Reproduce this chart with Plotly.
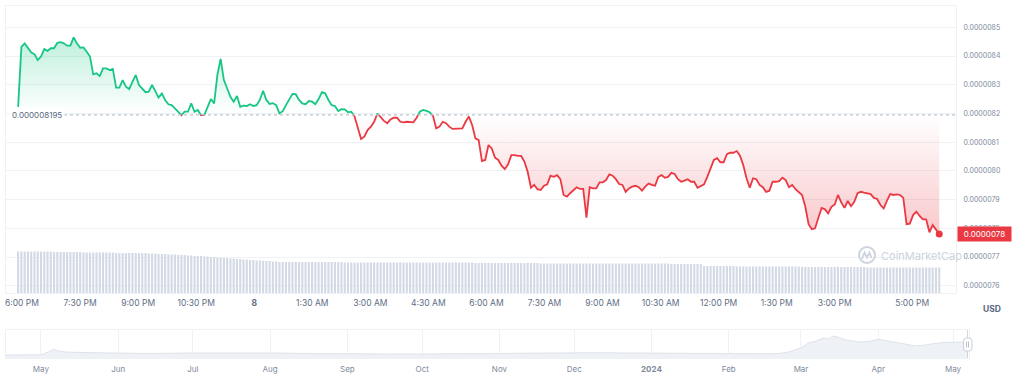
import numpy as np
import pandas as pd
import plotly.graph_objects as go

# ---------------- data ----------------
START = "2024-05-07 17:54"
END = "2024-05-08 17:42"

PRICE_E6 = [
    8.223, 8.432, 8.444, 8.427, 8.413, 8.406, 8.386, 8.398, 8.424, 8.418,
    8.427, 8.427, 8.446, 8.448, 8.444, 8.436, 8.436, 8.465, 8.444, 8.429,
    8.430, 8.415, 8.398, 8.336, 8.340, 8.330, 8.357, 8.357, 8.351, 8.355,
    8.290, 8.290, 8.316, 8.293, 8.285, 8.310, 8.334, 8.299, 8.285, 8.274,
    8.276, 8.299, 8.278, 8.255, 8.270, 8.247, 8.232, 8.229, 8.218, 8.204,
    8.194, 8.206, 8.206, 8.235, 8.206, 8.212, 8.194, 8.194, 8.223, 8.250,
    8.235, 8.334, 8.390, 8.316, 8.287, 8.258,
    8.241, 8.261, 8.223, 8.227, 8.226, 8.232, 8.226, 8.229, 8.247, 8.279,
    8.247, 8.233, 8.236, 8.229, 8.200, 8.208, 8.229, 8.250, 8.268, 8.267,
    8.247, 8.235, 8.232, 8.243, 8.241, 8.232, 8.250, 8.274, 8.270, 8.247,
    8.229, 8.226, 8.208, 8.215, 8.214, 8.204, 8.206, 8.189, 8.148, 8.111,
    8.119, 8.142, 8.154, 8.171, 8.200, 8.185, 8.174, 8.166, 8.179, 8.185,
    8.185, 8.171, 8.169, 8.171, 8.171, 8.169, 8.185, 8.206, 8.212, 8.209,
    8.204, 8.192, 8.148, 8.154, 8.171, 8.166, 8.154, 8.146, 8.146, 8.148,
    8.148, 8.171, 8.189, 8.160, 8.113, 8.107, 8.034, 8.038, 8.090, 8.078,
    8.046, 8.038, 8.018, 8.006, 8.023, 8.055, 8.055, 8.052, 8.052, 8.032,
    7.997, 7.941, 7.951, 7.936, 7.933, 7.948, 7.953, 7.983, 7.979, 7.985,
    7.971, 7.916, 7.910, 7.922, 7.933, 7.943, 7.937, 7.937, 7.837, 7.943,
    7.939, 7.939, 7.960, 7.960, 7.968, 7.988, 7.983, 7.971, 7.954, 7.951,
    7.927, 7.939, 7.945, 7.948, 7.943, 7.931, 7.945, 7.956, 7.951, 7.948,
    7.979, 7.985, 7.976, 7.979, 7.993, 7.989, 7.971, 7.962, 7.966, 7.971,
    7.962, 7.962, 7.941, 7.947, 7.953, 7.979, 8.006, 8.038, 8.044, 8.030,
    8.030, 8.058, 8.063, 8.063, 8.069, 8.053, 8.020, 7.974, 7.941, 7.974,
    7.971, 7.951, 7.943, 7.927, 7.931, 7.962, 7.962, 7.964, 7.976, 7.968,
    7.943, 7.951, 7.936, 7.927, 7.916, 7.875, 7.814, 7.797, 7.800, 7.837,
    7.871, 7.866, 7.852, 7.875, 7.883, 7.916, 7.890, 7.871, 7.895, 7.877,
    7.892, 7.922, 7.927, 7.924, 7.922, 7.919, 7.906, 7.902, 7.881, 7.869,
    7.896, 7.919, 7.916, 7.918, 7.916, 7.906, 7.814, 7.816, 7.846, 7.858,
    7.843, 7.831, 7.831, 7.786, 7.811, 7.797, 7.780,
]

VOLUME = [
    41.5, 41.5, 41.5, 41.5, 41.5, 41.5, 41.5, 41.5, 41.5, 41.5, 41.5, 41, 41, 41, 41, 41, 41, 41, 41, 41,
    40.5, 40.5, 40.5, 40.5, 40.5, 40.5, 40.5, 40.5, 40.5, 40.5, 40, 40, 40, 40, 40, 40, 40, 40, 40, 40,
    39.5, 39.5, 39.5, 39, 39, 39, 38.5, 38.5, 38.5, 38, 38, 38, 37.5, 37.5, 37, 37, 37, 36.5, 36.5, 36,
    36, 35.5, 35.5, 35, 35, 34.5, 34.5, 34, 34, 33.5, 33.5, 33, 33, 32.5, 32.5, 32, 32, 32, 31.5, 31.5,
    31, 31, 31, 31, 31, 31, 31, 31, 31, 31, 31, 31, 31, 31, 31, 31, 31, 31, 31, 31,
    30.5, 30.5, 30.5, 30.5, 30.5, 30.5, 30.5, 30.5, 30.5, 30.5, 30.5, 30.5, 30.5, 30.5, 30.5, 30.5, 30.5, 30.5, 30.5, 30.5,
    30.5, 30.5, 30.5, 30.5, 30.5, 30.5, 30.5, 30.5, 30.5, 30.5, 30.5, 30.5, 30.5, 30.5, 30.5, 30.5, 30.5, 30.5, 30.5, 30.5,
    30, 30, 30, 30, 30, 30, 30, 30, 30, 30, 30, 30, 30, 30, 30, 30, 30, 30, 30, 30,
    29.5, 29.5, 29.5, 29.5, 29.5, 29.5, 29.5, 29.5, 29.5, 29.5, 29.5, 29.5, 29.5, 29.5, 29.5, 29.5, 29.5, 29.5, 29.5, 29.5,
    29.5, 29.5, 29.5, 29.5, 29.5, 29.5, 29.5, 29.5, 29.5, 29.5, 29.5, 29.5, 29.5, 29.5, 29.5, 29.5, 29.5, 29.5, 29.5, 29.5,
    29, 29, 29, 29, 29, 29, 29, 29, 29, 29, 27, 27, 27, 27, 27, 27, 27, 27, 27, 27,
    26.5, 26.5, 26.5, 26.5, 26.5, 26.5, 26.5, 26.5, 26.5, 26.5, 26.5, 26.5, 26.5, 26.5, 26.5, 26.5, 26.5, 26.5, 26.5, 26.5,
    26, 26, 26, 26, 26, 26, 26, 26, 26, 26, 26, 26, 26, 26, 26, 26, 26, 26, 26, 26,
    25.5, 25.5, 25.5, 25.5, 25.5, 25.5, 25.5, 25.5, 25.5, 25.5, 25.5, 25.5, 25.5, 25.5, 25.5, 25.5, 25.5, 25.5, 25.5, 25.5,
    25.5, 25.5, 25.5,
]

BASE_E6 = 8.195

X_TICK_TIMES = [
    "2024-05-07 18:00", "2024-05-07 19:30", "2024-05-07 21:00", "2024-05-07 22:30",
    "2024-05-08 00:00", "2024-05-08 01:30", "2024-05-08 03:00", "2024-05-08 04:30",
    "2024-05-08 06:00", "2024-05-08 07:30", "2024-05-08 09:00", "2024-05-08 10:30",
    "2024-05-08 12:00", "2024-05-08 13:30", "2024-05-08 15:00", "2024-05-08 17:00",
]
X_TICK_TEXT = [
    "6:00 PM", "7:30 PM", "9:00 PM", "10:30 PM", "<b>8</b>", "1:30 AM", "3:00 AM", "4:30 AM",
    "6:00 AM", "7:30 AM", "9:00 AM", "10:30 AM", "12:00 PM", "1:30 PM", "3:00 PM", "5:00 PM",
]
Y_TICKS_E6 = [7.6, 7.7, 7.8, 7.9, 8.0, 8.1, 8.2, 8.3, 8.4, 8.5]

NAV_DATES = [
    "2023-04-17", "2023-04-27", "2023-05-01", "2023-05-04", "2023-05-06", "2023-05-08",
    "2023-05-11", "2023-05-17", "2023-05-25", "2023-06-01", "2023-06-13", "2023-07-01",
    "2023-07-16", "2023-08-01", "2023-08-17", "2023-09-01", "2023-09-16", "2023-10-01",
    "2023-10-16", "2023-10-24", "2023-11-01", "2023-11-17", "2023-12-01", "2023-12-11",
    "2023-12-23", "2024-01-01", "2024-01-16", "2024-02-01", "2024-02-13", "2024-02-21",
    "2024-02-25", "2024-03-01", "2024-03-04", "2024-03-07", "2024-03-10", "2024-03-12",
    "2024-03-14", "2024-03-17", "2024-03-19", "2024-03-22", "2024-03-25", "2024-03-29",
    "2024-04-01", "2024-04-05", "2024-04-09", "2024-04-13", "2024-04-16", "2024-04-20",
    "2024-04-24", "2024-04-28", "2024-05-01", "2024-05-04", "2024-05-07",
]
NAV_E6 = [
    1.47, 1.47, 1.6, 2.9, 4.3, 3.4,
    2.9, 2.7, 2.45, 2.3, 2.2, 2.45,
    2.6, 2.45, 2.2, 1.96, 1.96, 1.96,
    2.06, 2.45, 2.3, 2.35, 2.45, 2.6,
    2.45, 2.35, 2.2, 2.2, 2.1, 2.2,
    2.9, 4.9, 7.35, 8.3, 9.8, 9.3,
    10.8, 9.8, 8.8, 8.3, 7.8, 8.3,
    9.2, 8.3, 7.35, 6.6, 5.9, 6.4,
    7.2, 7.6, 7.8, 7.8, 7.8,
]
NAV_TICK_DATES = [
    "2023-05-01", "2023-06-01", "2023-07-01", "2023-08-01", "2023-09-01", "2023-10-01",
    "2023-11-01", "2023-12-01", "2024-01-01", "2024-02-01", "2024-03-01", "2024-04-01",
    "2024-05-01",
]
NAV_TICK_TEXT = ["May", "Jun", "Jul", "Aug", "Sep", "Oct", "Nov", "Dec", "<b>2024</b>",
                 "Feb", "Mar", "Apr", "May"]

# ---------------- derived ----------------
times = pd.date_range(START, END, periods=len(PRICE_E6))
price = np.array(PRICE_E6) * 1e-6
base = BASE_E6 * 1e-6
nav = np.array(NAV_E6) * 1e-6
y_ticks = [v * 1e-6 for v in Y_TICKS_E6]

GREEN = "#16c784"
RED = "#ea3943"
GRID = "#eff2f5"
TXT = "#616e85"
FONT = "Inter"

W, H = 1024, 382
ML, MR, MT, MB = 6, 50, 6, 8
PW, PH = W - ML - MR, H - MT - MB


def fx(p):
    return (p - ML) / PW


def fy(p):
    return (H - MB - p) / PH


LO, HI = 7.5746e-6, 8.5742e-6
main_bot = fy(293)
split = main_bot + (base - LO) / (HI - LO) * (1 - main_bot)

fig = go.Figure()

# volume bars
fig.add_trace(go.Bar(x=times, y=VOLUME, xaxis="x", yaxis="y4",
                     marker=dict(color="#d3d9e5", line=dict(width=0)),
                     hoverinfo="skip", showlegend=False))

# green part (above baseline)
fig.add_trace(go.Scatter(
    x=times, y=price, xaxis="x", yaxis="y2", mode="lines",
    line=dict(color=GREEN, width=1.8), fill="tozeroy",
    fillgradient=dict(type="vertical", start=base, stop=float(price.max()),
                      colorscale=[[0, "rgba(22,199,132,0)"], [1, "rgba(22,199,132,0.28)"]]),
    showlegend=False))

# red part (below baseline)
fig.add_trace(go.Scatter(
    x=[times[0], times[-1]], y=[base, base], xaxis="x", yaxis="y3", mode="lines",
    line=dict(width=0, color="rgba(0,0,0,0)"), hoverinfo="skip", showlegend=False))
fig.add_trace(go.Scatter(
    x=times, y=price, xaxis="x", yaxis="y3", mode="lines",
    line=dict(color=RED, width=1.8), fill="tonexty",
    fillgradient=dict(type="vertical", start=float(price.min()), stop=base,
                      colorscale=[[0, "rgba(234,57,67,0.28)"], [1, "rgba(234,57,67,0)"]]),
    showlegend=False))

# last point marker
fig.add_trace(go.Scatter(
    x=[times[-1]], y=[price[-1]], xaxis="x", yaxis="y", mode="markers",
    marker=dict(color=RED, size=7), cliponaxis=False, showlegend=False))

# navigator
fig.add_trace(go.Scatter(
    x=NAV_DATES, y=nav, xaxis="x2", yaxis="y5", mode="lines",
    line=dict(color="#dfe3ea", width=1), fill="tozeroy", fillcolor="#eef1f5",
    showlegend=False))

axis_font = dict(family=FONT, size=8.5, color=TXT)

fig.update_layout(
    width=W, height=H,
    margin=dict(l=ML, r=MR, t=MT, b=MB),
    paper_bgcolor="white", plot_bgcolor="rgba(0,0,0,0)",
    font=dict(family=FONT),
    bargap=0.35,
    showlegend=False,
    xaxis=dict(domain=[0, fx(956)], anchor="y", type="date",
               range=["2024-05-07 17:35:12", "2024-05-08 18:08:00"],
               tickmode="array", tickvals=X_TICK_TIMES, ticktext=X_TICK_TEXT,
               tickfont=axis_font, showgrid=False, zeroline=False, ticklabelstandoff=2,
               showline=True, mirror=True, linecolor=GRID, linewidth=1, ticks=""),
    yaxis=dict(domain=[main_bot, 1], anchor="x", side="right", range=[LO, HI],
               tickmode="array", tickvals=y_ticks, tickformat=".7f",
               tickfont=dict(family=FONT, size=7, color="#808a9d"), ticklabelstandoff=5,
               showgrid=True, gridcolor=GRID, gridwidth=1, zeroline=False,
               showline=True, mirror=True, linecolor=GRID, ticks=""),
    yaxis2=dict(domain=[split, 1], anchor="x", range=[base, HI], visible=False),
    yaxis3=dict(domain=[main_bot, split], anchor="x", range=[LO, base], visible=False),
    yaxis4=dict(domain=[main_bot, fy(249)], anchor="x", range=[0, 44], visible=False),
    xaxis2=dict(domain=[0, fx(969)], anchor="y5", type="date",
                range=["2023-04-17", "2024-05-07 10:00"],
                tickmode="array", tickvals=NAV_TICK_DATES, ticktext=NAV_TICK_TEXT,
                tickfont=dict(family=FONT, size=8, color="#808a9d"), ticklabelstandoff=3,
                showgrid=True, gridcolor=GRID, zeroline=False,
                showline=True, mirror=True, linecolor=GRID, ticks=""),
    yaxis5=dict(domain=[fy(358), fy(330)], anchor="x2", range=[0, 13.72e-6],
                showticklabels=False, showgrid=False, zeroline=False,
                showline=True, mirror=True, linecolor=GRID, ticks=""),
)

shapes = []
# dotted baseline
shapes.append(dict(type="line", xref="paper", yref="y", x0=fx(64), x1=fx(955),
                   y0=base, y1=base, line=dict(color="#bcc3ce", width=1.2, dash="dot"),
                   layer="above"))
# navigator right handle
shapes.append(dict(type="line", xref="paper", yref="paper", x0=fx(967.5), x1=fx(967.5),
                   y0=fy(358), y1=fy(330), line=dict(color="#cfd5de", width=1)))
x0, x1, y0, y1, r = 963.5, 972, 338, 351, 3
path = (f"M {fx(x0 + r)},{fy(y0)} L {fx(x1 - r)},{fy(y0)} Q {fx(x1)},{fy(y0)} {fx(x1)},{fy(y0 + r)} "
        f"L {fx(x1)},{fy(y1 - r)} Q {fx(x1)},{fy(y1)} {fx(x1 - r)},{fy(y1)} "
        f"L {fx(x0 + r)},{fy(y1)} Q {fx(x0)},{fy(y1)} {fx(x0)},{fy(y1 - r)} "
        f"L {fx(x0)},{fy(y0 + r)} Q {fx(x0)},{fy(y0)} {fx(x0 + r)},{fy(y0)} Z")
shapes.append(dict(type="path", xref="paper", yref="paper", path=path,
                   fillcolor="white", line=dict(color="#c9cfd9", width=1)))
for hx in (966.5, 968.5):
    shapes.append(dict(type="line", xref="paper", yref="paper", x0=fx(hx), x1=fx(hx),
                       y0=fy(341.5), y1=fy(347.5), line=dict(color="#a6b0c3", width=0.8)))
# watermark logo
shapes.append(dict(type="circle", xref="paper", yref="paper",
                   x0=fx(859), x1=fx(875), y0=fy(263), y1=fy(247),
                   line=dict(color="#cdd3dd", width=2)))
logo = (f"M {fx(862)},{fy(259)} L {fx(864.5)},{fy(252.5)} L {fx(867)},{fy(257.5)} "
        f"L {fx(869.5)},{fy(252.5)} L {fx(871.5)},{fy(258)}")
shapes.append(dict(type="path", xref="paper", yref="paper", path=logo,
                   line=dict(color="#cdd3dd", width=1.8)))
fig.update_layout(shapes=shapes)

annotations = [
    dict(xref="paper", yref="y", x=fx(9), y=base, xanchor="left", yanchor="middle",
         text=f"{base:.9f}", showarrow=False, bgcolor="white", borderpad=2,
         font=dict(family=FONT, size=8, color="#58667e")),
    dict(xref="paper", yref="y", x=fx(957), y=float(price[-1]), xanchor="left", yanchor="middle",
         text=f"{price[-1]:.7f}", showarrow=False, bgcolor=RED, width=51, height=12,
         borderpad=1, font=dict(family=FONT, size=8, color="white")),
    dict(xref="paper", yref="paper", x=fx(992), y=fy(309), xanchor="center", yanchor="middle",
         text="<b>USD</b>", showarrow=False, font=dict(family=FONT, size=8.5, color="#58667e")),
    dict(xref="paper", yref="paper", x=fx(879), y=fy(255.5), xanchor="left", yanchor="middle",
         text="CoinMarketCap", showarrow=False,
         font=dict(family=FONT, size=11, color="#cdd3dd")),
]
fig.update_layout(annotations=annotations)

fig.write_html("out.html", config={"displayModeBar": False},
               post_script="document.body.style.margin='0';")
